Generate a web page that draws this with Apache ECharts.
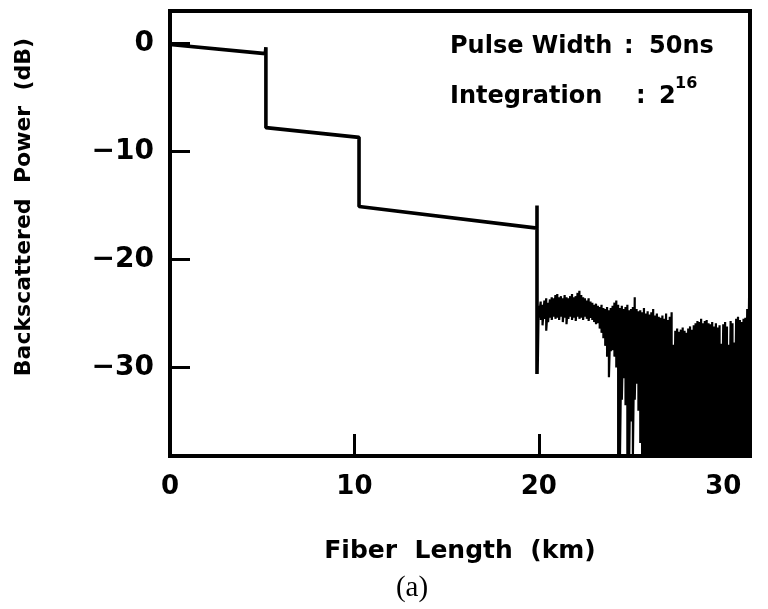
<!DOCTYPE html>
<html>
<head>
<meta charset="utf-8">
<script src="https://cdn.jsdelivr.net/npm/echarts/dist/echarts.min.js"></script>
<style>
  html, body { margin: 0; padding: 0; background: #fff; }
  #chart { width: 768px; height: 609px; }
</style>
</head>
<body>
<div id="chart"></div>
<script>
// OTDR trace: fiber sections joined at ~5 km and ~10 km, far end at 20 km
const traceKm = [0, 5.17, 5.2, 5.2, 10.25, 10.25, 19.9, 19.9, 19.9, 19.95];
const traceDb = [-0.1, -0.95, -0.35, -7.8, -8.7, -15.1, -17.1, -15.0, -30.6, -24.6];

// Noise floor past the fiber end, sampled every 0.1 km from 20.0 km:
// upper and lower excursion of the trace at each sample (dB)
const noiseStartKm = 20.0;
const noiseStepKm = 0.1;
const noiseHi = [
  -24.3, -23.9, -24.2, -23.8, -23.6, -24.0, -23.7, -23.5, -23.6, -23.3,
  -23.2, -23.5, -23.4, -23.6, -23.3, -23.5, -23.6, -23.4, -23.2, -23.5,
  -23.4, -23.1, -22.9, -23.3, -23.5, -23.6, -23.8, -23.6, -23.9, -24.0,
  -24.2, -24.1, -24.3, -24.4, -24.2, -24.5, -24.6, -24.4, -24.7, -24.5,
  -24.3, -24.0, -23.8, -24.2, -24.5, -24.3, -24.6, -24.4, -24.2, -24.7,
  -24.6, -24.4, -23.5, -24.6, -24.8, -24.7, -24.9, -24.5, -25.0, -24.8,
  -25.1, -24.9, -24.6, -25.2, -25.0, -25.3, -25.4, -25.2, -25.5, -25.0,
  -25.6, -25.3, -24.9, -27.9, -26.6, -26.4, -26.7, -26.5, -26.3, -26.6,
  -26.8, -26.4, -26.2, -26.5, -26.1, -25.9, -25.7, -25.8, -25.5, -25.9,
  -25.7, -25.6, -25.9, -26.0, -25.8, -26.2, -25.9, -26.3, -26.1, -27.8,
  -26.0, -25.8, -26.2, -27.9, -25.7, -25.9, -27.7, -25.5, -25.3, -25.6,
  -25.8, -25.5, -25.4, -24.6, -23.5
];
const noiseLo = [
  -25.4, -25.6, -26.1, -25.5, -26.6, -25.8, -25.4, -25.6, -25.3, -25.5,
  -25.4, -25.6, -25.3, -25.8, -25.4, -26.0, -25.5, -25.3, -25.6, -25.4,
  -25.7, -25.3, -25.5, -25.4, -25.6, -25.3, -25.5, -25.7, -25.4, -25.6,
  -25.8, -26.0, -25.9, -26.4, -26.8, -27.3, -28.0, -29.0, -30.9, -28.5,
  -28.4, -29.0, -30.0, -38.2, -38.2, -33.0, -31.0, -33.5, -38.2, -38.2,
  -35.0, -38.2, -33.0, -31.5, -34.0, -37.0, -38.2, -38.2, -38.2, -38.2,
  -38.2, -38.2, -38.2, -38.2, -38.2, -38.2, -38.2, -38.2, -38.2, -38.2,
  -38.2, -38.2, -38.2, -38.2, -38.2, -38.2, -38.2, -38.2, -38.2, -38.2,
  -38.2, -38.2, -38.2, -38.2, -38.2, -38.2, -38.2, -38.2, -38.2, -38.2,
  -38.2, -38.2, -38.2, -38.2, -38.2, -38.2, -38.2, -38.2, -38.2, -38.2,
  -38.2, -38.2, -38.2, -38.2, -38.2, -38.2, -38.2, -38.2, -38.2, -38.2,
  -38.2, -38.2, -38.2, -38.2, -38.2
];

// Axis ranges and tick spacing
const xRange = [0, 31.45];
const yRange = [-38.2, 3];
const xTickStep = 10;
const yTickStep = 10;

const traceData = traceKm.map((km, i) => [km, traceDb[i]]);
// the noise trace swings between its upper and lower excursion at each sample
const noiseData = [];
noiseHi.forEach((hi, i) => {
  const km = +(noiseStartKm + i * noiseStepKm).toFixed(2);
  noiseData.push([km, hi], [km, noiseLo[i]]);
});

const sans = '"DejaVu Sans", sans-serif';
const digitFont = { color: '#000', fontFamily: 'DejaVu Sans', fontWeight: 'bold' };

function label(text, x, y, font, align, rotation) {
  return {
    type: 'text', x: x, y: y, rotation: rotation || 0,
    style: { text: text, font: font, fill: '#000', align: align || 'left', verticalAlign: 'middle' }
  };
}

const chart = echarts.init(document.getElementById('chart'), null, { renderer: 'canvas' });
chart.setOption({
  animation: false,
  backgroundColor: '#fff',
  grid: {
    left: 170, top: 11, right: 18, bottom: 153,
    show: true, borderColor: '#000', borderWidth: 4
  },
  xAxis: {
    type: 'value',
    min: xRange[0], max: xRange[1], interval: xTickStep,
    axisLine: { onZero: false, lineStyle: { color: '#000', width: 4 } },
    axisTick: { inside: true, length: 22, lineStyle: { color: '#000', width: 3 } },
    axisLabel: Object.assign({ fontSize: 26, margin: 18, showMaxLabel: false }, digitFont),
    splitLine: { show: false }
  },
  yAxis: {
    type: 'value',
    min: yRange[0], max: yRange[1],
    minInterval: yTickStep, maxInterval: yTickStep,
    axisLine: { onZero: false, lineStyle: { color: '#000', width: 4 } },
    axisTick: { inside: true, length: 20, lineStyle: { color: '#000', width: 3 } },
    axisLabel: Object.assign({
      fontSize: 28, margin: 16, showMinLabel: false, showMaxLabel: false,
      formatter: v => (v === 0 ? '0' : '\u2212' + Math.abs(v))
    }, digitFont),
    splitLine: { show: false }
  },
  series: [
    {
      type: 'line', data: traceData, showSymbol: false, z: 3,
      lineStyle: { color: '#000', width: 3.6 }
    },
    {
      type: 'line', data: noiseData, showSymbol: false, z: 2,
      lineStyle: { color: '#000', width: 2.2 }
    }
  ],
  graphic: [
    label('Backscattered  Power  (dB)', 24, 207, 'bold 22px ' + sans, 'center', Math.PI / 2),
    label('Fiber  Length  (km)', 460, 551, 'bold 25px ' + sans, 'center'),
    label('(a)', 412, 588, '29px "Liberation Serif", serif', 'center'),
    label('Pulse Width', 450, 47, 'bold 24px ' + sans),
    label(':', 624, 47, 'bold 24px ' + sans),
    label('50ns', 649, 47, 'bold 24px ' + sans),
    label('Integration', 450, 97, 'bold 24px ' + sans),
    label(':', 636, 97, 'bold 24px ' + sans),
    label('2', 659, 97, 'bold 24px ' + sans),
    label('16', 675, 84, 'bold 16px ' + sans)
  ]
});
</script>
</body>
</html>
